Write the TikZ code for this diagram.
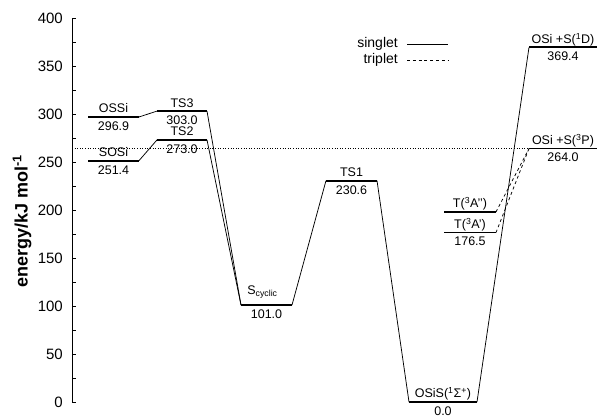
\documentclass[tikz,border=0pt]{standalone}
\usepackage{fontspec}
\setmainfont{Liberation Sans}
\newcommand\lvl[6]{%
  \coordinate (#1L) at (#2,#4);
  \coordinate (#1R) at (#3,#4);
  \draw[level] (#1L) -- (#1R);
  \node[lab, anchor=base, yshift=4pt] (#1t) at ({(#2+#3)/2},#4) {#5};
  \node[lab, anchor=north, yshift=-4.5pt] (#1b) at ({(#2+#3)/2},#4) {#6};}
\begin{document}
\begin{tikzpicture}[x=1pt,y=1pt,
  level/.style={line width=1.8pt},
  conn/.style={line width=0.75pt},
  trip/.style={line width=0.75pt, dash pattern=on 3pt off 2.8pt},
  lab/.style={font=\fontsize{12.5}{13}\selectfont, inner sep=0pt},
  ticklab/.style={font=\fontsize{15}{16}\selectfont, inner sep=0pt, anchor=east},
  leglab/.style={font=\fontsize{14}{15}\selectfont, inner sep=0pt, anchor=east}]
\useasboundingbox (0,0) rectangle (598,419);
\node[rotate=90, inner sep=0pt, font=\fontsize{18}{19}\selectfont\bfseries] (ylab) at (22,198) {energy/kJ mol\textsuperscript{-1}};
\begin{scope}[y=0.96pt, yshift=17pt]
  % axis
  \coordinate (ax0) at (72,0);
  \coordinate (ax1) at (72,400);
  \draw[line width=0.8pt] (ax0) -- (ax1);
  \foreach \v in {0,25,...,400} \draw[line width=0.6pt] (72,\v) -- (76,\v);
  \foreach \v in {0,50,...,400} \node[ticklab] (t\v) at (63,\v) {\v};
  % levels
  \lvl{ossi}{88}{139}{296.9}{OSSi}{296.9}
  \lvl{sosi}{88}{139}{251.4}{SOSi}{251.4}
  \lvl{tsc}{157}{207}{303.0}{TS3}{303.0}
  \lvl{tsb}{157}{207}{273.0}{TS2}{273.0}
  \lvl{tsa}{326}{377}{230.6}{TS1}{230.6}
  \lvl{osis}{409}{477}{0.0}{OSiS(\textsuperscript{1}Σ\textsuperscript{+})}{0.0}
  \lvl{tapp}{444}{496}{198}{T(\textsuperscript{3}A’’)}{}
  \lvl{tap}{444}{496}{176.5}{T(\textsuperscript{3}A’)}{176.5}
  \lvl{pth}{529}{597}{264.0}{OSi +S(\textsuperscript{3}P)}{264.0}
  \lvl{dsg}{529}{597}{369.4}{OSi +S(\textsuperscript{1}D)}{369.4}
  \coordinate (scycL) at (241,101.0);
  \coordinate (scycR) at (292,101.0);
  \draw[level] (scycL) -- (scycR);
  \node[lab, anchor=base, yshift=11pt, xshift=-4pt] (scyct) at (266.5,101.0) {S\textsubscript{cyclic}};
  \node[lab, anchor=north, yshift=-4.5pt] (scycb) at (266.5,101.0) {101.0};
  % dotted reference line
  \coordinate (dref) at (72,264.0);
  \draw[line width=0.6pt, dash pattern=on 1pt off 1.6pt] (dref) -- (pthL);
  % connectors
  \draw[conn] (ossiR) -- (tscL);
  \draw[conn] (sosiR) -- (tsbL);
  \draw[conn] (tscR) -- (scycL);
  \draw[conn] (tsbR) -- (scycL);
  \draw[conn] (scycR) -- (tsaL);
  \draw[conn] (tsaR) -- (osisL);
  \draw[conn] (osisR) -- (dsgL);
  \draw[trip] (tappR) -- (pthL);
  \draw[trip] (tapR) -- (pthL);
  % legend
  \node[leglab] (ls) at (398,373) {singlet};
  \node[leglab] (lt) at (398,356) {triplet};
  \coordinate (ls1) at (407,373); \coordinate (ls2) at (448,373);
  \coordinate (lt1) at (407,356); \coordinate (lt2) at (448,356);
  \draw[conn] (ls1) -- (ls2);
  \draw[trip] (lt1) -- (lt2);
\end{scope}
\end{tikzpicture}
\end{document}
